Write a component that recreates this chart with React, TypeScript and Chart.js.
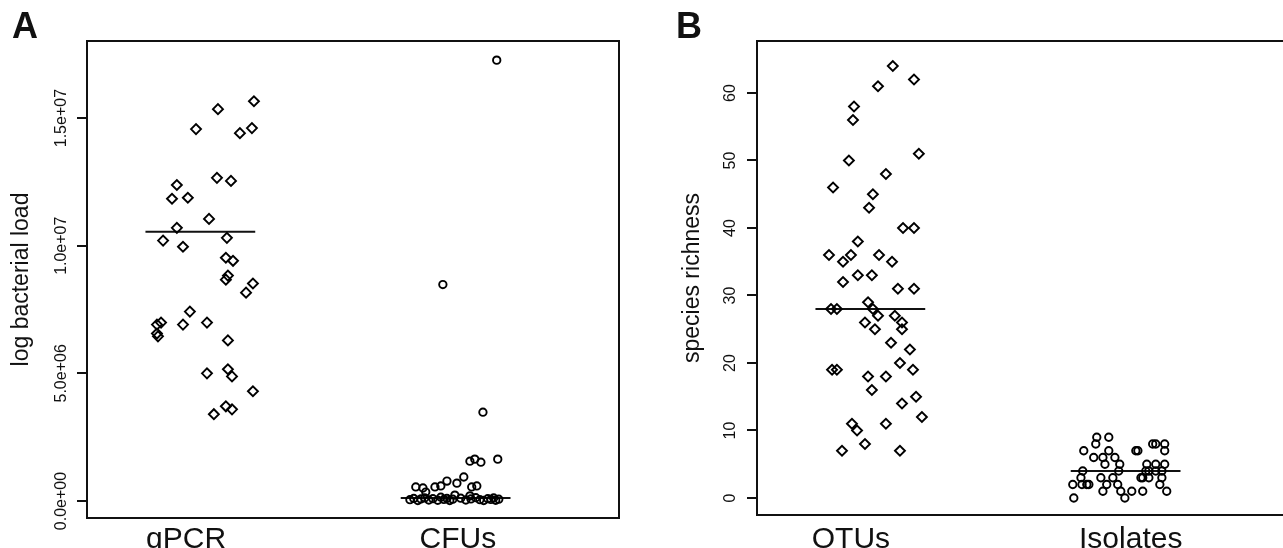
import React, { useEffect, useRef } from "react";
import { Chart, registerables } from "chart.js";

Chart.register(...registerables);

const FONT = "'Liberation Sans', Arial, Helvetica, sans-serif";
const INK = "#111";

// ---------- Panel A ----------
const categoriesA = ["qPCR", "CFUs"];
const catPosA = [1, 2];
const labelPosA = [0.944, 2.009];
const qpcrValues = [
  15.66e6, 15.35e6, 14.57e6, 14.41e6, 14.61e6, 12.66e6, 12.54e6, 12.38e6, 11.84e6, 11.88e6,
  11.05e6, 10.7e6, 10.2e6, 9.96e6, 10.31e6, 9.53e6, 9.41e6, 8.83e6, 8.67e6, 8.52e6,
  8.16e6, 7.42e6, 6.91e6, 6.99e6, 6.91e6, 6.99e6, 6.45e6, 6.56e6, 6.29e6, 5.0e6,
  5.16e6, 4.88e6, 4.3e6, 3.4e6, 3.71e6, 3.59e6,
];
const qpcrJitter = [
  0.21, 0.069, -0.017, 0.155, 0.202, 0.065, 0.12, -0.092, -0.111, -0.049,
  0.034, -0.092, -0.146, -0.068, 0.104, 0.1, 0.128, 0.108, 0.1, 0.206,
  0.179, -0.041, -0.17, -0.154, -0.068, 0.026, -0.166, -0.17, 0.108, 0.026,
  0.108, 0.124, 0.206, 0.053, 0.1, 0.124,
];
const cfuValues = [
  17.27e6, 8.48e6, 3.48e6, 1.56e6, 1.64e6, 1.52e6, 1.64e6, 0.94e6, 0.7e6, 0.78e6,
  0.59e6, 0.55e6, 0.51e6, 0.55e6, 0.35e6, 0.55e6, 0.59e6, 0.23e6, 0.2e6,
  0.05e6, 0.1e6, 0.02e6, 0.08e6, 0.12e6, 0.04e6, 0.09e6, 0.03e6, 0.15e6, 0.06e6,
  0.1e6, 0.02e6, 0.07e6, 0.11e6, 0.04e6, 0.08e6, 0.13e6, 0.05e6, 0.02e6, 0.09e6,
  0.06e6, 0.12e6, 0.03e6, 0.07e6,
];
const cfuJitter = [
  0.161, -0.05, 0.107, 0.056, 0.075, 0.099, 0.165, 0.032, 0.005, -0.034,
  -0.058, -0.081, -0.128, -0.156, -0.117, 0.063, 0.083, -0.003, 0.056,
  -0.179, -0.164, -0.148, -0.136, -0.121, -0.105, -0.089, -0.07, -0.058, -0.046,
  -0.034, -0.023, -0.011, 0.02, 0.04, 0.06, 0.079, 0.095, 0.11, 0.126,
  0.138, 0.149, 0.157, 0.169,
];
const mediansA = [10.55e6, 0.12e6];
const yTicksA = [0, 5e6, 1e7, 1.5e7];
const yTickLabelsA = ["0.0e+00", "5.0e+06", "1.0e+07", "1.5e+07"];
const yRangeA = [-0.666e6, 18.02e6];

// ---------- Panel B ----------
const categoriesB = ["OTUs", "Isolates"];
const catPosB = [1, 2];
const labelPosB = [0.924, 2.02];
const otuValues = [
  64, 62, 61, 58, 56, 50, 51, 46, 48, 45, 43, 40, 40, 38, 36, 35, 36, 36, 35, 32,
  33, 33, 31, 31, 28, 28, 29, 28, 27, 27, 26, 26, 25, 25, 23, 22, 20, 19, 19, 19,
  18, 18, 16, 15, 14, 12, 11, 10, 11, 8, 7, 7,
];
const otuJitter = [
  0.088, 0.171, 0.03, -0.064, -0.068, -0.084, 0.19, -0.146, 0.061, 0.01,
  -0.005, 0.128, 0.171, -0.049, -0.162, -0.107, -0.076, 0.034, 0.085, -0.107,
  -0.049, 0.006, 0.108, 0.171, -0.154, -0.131, -0.009, 0.01, 0.03, 0.096,
  -0.021, 0.124, 0.018, 0.124, 0.081, 0.155, 0.116, -0.15, -0.131, 0.167,
  -0.009, 0.061, 0.006, 0.179, 0.124, 0.202, -0.072, -0.052, 0.061, -0.021,
  -0.111, 0.116,
];
const isolateValues = [
  9, 9, 8, 7, 7, 6, 6, 6, 5, 5, 4, 4, 3, 3, 3, 2, 2, 2, 2, 2, 2, 1, 1, 1, 1, 0, 0,
  7, 7, 8, 8, 8, 7, 5, 5, 5, 4, 4, 4, 4, 3, 3, 3, 3, 2, 1,
];
const isolateJitter = [
  -0.113, -0.066, -0.117, -0.164, -0.066, -0.125, -0.089, -0.042, -0.081, -0.023,
  -0.168, -0.027, -0.175, -0.097, -0.05, -0.207, -0.171, -0.152, -0.144, -0.074,
  -0.031, -0.089, -0.019, 0.024, 0.067, -0.203, -0.003,
  0.04, 0.048, 0.106, 0.118, 0.153, 0.153, 0.083, 0.118, 0.153, 0.079, 0.091, 0.118,
  0.142, 0.067, 0.06, 0.091, 0.142, 0.134, 0.161,
];
const mediansB = [28, 4];
const yTicksB = [0, 10, 20, 30, 40, 50, 60];
const yTickLabelsB = ["0", "10", "20", "30", "40", "50", "60"];
const yRangeB = [-2.52, 67.7];

const xRange = [0.556, 2.64];
const medianHalfWidth = 0.215;

const boxPlugin = {
  id: "boxFrame",
  afterDatasetsDraw(chart: any) {
    const { ctx, chartArea: a } = chart;
    ctx.save();
    ctx.strokeStyle = INK;
    ctx.lineWidth = 2;
    ctx.strokeRect(a.left, a.top, a.right - a.left, a.bottom - a.top);
    ctx.restore();
  },
};

type PanelSpec = {
  width: number;
  height: number;
  categories: string[];
  catPos: number[];
  labelPos: number[];
  groups: { values: number[]; jitter: number[]; style: string; radius: number }[];
  medians: number[];
  yTicks: number[];
  yTickLabels: string[];
  yRange: number[];
  yTitle: string;
  yAxisWidth: number;
  xAxisHeight: number;
  rightPad: number;
  yTickPad: number;
  yTitlePad: number;
  xTickPad: number;
};

function buildConfig(p: PanelSpec): any {
  const datasets: any[] = [];
  p.groups.forEach((g, gi) => {
    datasets.push({
      type: "scatter",
      data: g.values.map((v, i) => ({ x: p.catPos[gi] + g.jitter[i], y: v })),
      pointStyle: g.style,
      pointRadius: g.radius,
      pointBorderWidth: 1.9,
      borderColor: "#000",
      backgroundColor: "rgba(0,0,0,0)",
      pointBackgroundColor: "rgba(0,0,0,0)",
      pointBorderColor: "#000",
    });
  });
  p.medians.forEach((m, gi) => {
    datasets.push({
      type: "line",
      data: [
        { x: p.catPos[gi] - medianHalfWidth, y: m },
        { x: p.catPos[gi] + medianHalfWidth, y: m },
      ],
      borderColor: INK,
      borderWidth: 2,
      pointRadius: 0,
      fill: false,
    });
  });
  return {
    type: "scatter",
    data: { datasets },
    plugins: [boxPlugin],
    options: {
      animation: false,
      responsive: false,
      devicePixelRatio: 1,
      layout: { padding: { top: 41, right: p.rightPad, bottom: 0, left: 0 } },
      plugins: { legend: { display: false }, tooltip: { enabled: false } },
      scales: {
        x: {
          type: "linear",
          min: xRange[0],
          max: xRange[1],
          afterBuildTicks: (s: any) => {
            s.ticks = p.labelPos.map((v) => ({ value: v }));
          },
          afterFit: (s: any) => {
            s.height = p.xAxisHeight;
          },
          ticks: {
            autoSkip: false,
            maxRotation: 0,
            minRotation: 0,
            padding: p.xTickPad,
            color: INK,
            font: { family: FONT, size: 30 },
            callback: (_v: any, i: number) => p.categories[i],
          },
          grid: { display: false, drawTicks: false },
          border: { display: false },
        },
        y: {
          type: "linear",
          min: p.yRange[0],
          max: p.yRange[1],
          afterBuildTicks: (s: any) => {
            s.ticks = p.yTicks.map((v) => ({ value: v }));
          },
          afterFit: (s: any) => {
            s.width = p.yAxisWidth;
          },
          ticks: {
            autoSkip: false,
            minRotation: 90,
            maxRotation: 90,
            crossAlign: "center",
            padding: p.yTickPad,
            color: INK,
            font: { family: FONT, size: 16 },
            callback: (_v: any, i: number) => p.yTickLabels[i],
          },
          grid: {
            drawOnChartArea: false,
            drawTicks: true,
            tickLength: 10,
            color: INK,
            lineWidth: 2,
          },
          border: { display: false },
          title: {
            display: true,
            text: p.yTitle,
            color: INK,
            font: { family: FONT, size: 23 },
            padding: { top: p.yTitlePad, bottom: 0 },
          },
        },
      },
    },
  };
}

function Panel({ spec, left }: { spec: PanelSpec; left: number }) {
  const ref = useRef<HTMLCanvasElement | null>(null);
  useEffect(() => {
    if (!ref.current) return;
    const chart = new Chart(ref.current, buildConfig(spec));
    return () => chart.destroy();
  }, []);
  return (
    <canvas
      ref={ref}
      width={spec.width}
      height={spec.height}
      style={{ position: "absolute", left, top: 0, width: spec.width, height: spec.height }}
    />
  );
}

const specA: PanelSpec = {
  width: 640,
  height: 548,
  categories: categoriesA,
  catPos: catPosA,
  labelPos: labelPosA,
  groups: [
    { values: qpcrValues, jitter: qpcrJitter, style: "rectRot", radius: 5 },
    { values: cfuValues, jitter: cfuJitter, style: "circle", radius: 3.7 },
  ],
  medians: mediansA,
  yTicks: yTicksA,
  yTickLabels: yTickLabelsA,
  yRange: yRangeA,
  yTitle: "log bacterial load",
  yAxisWidth: 87,
  xAxisHeight: 30,
  rightPad: 21,
  yTickPad: -14,
  yTitlePad: 8,
  xTickPad: 4,
};

const specB: PanelSpec = {
  width: 660,
  height: 548,
  categories: categoriesB,
  catPos: catPosB,
  labelPos: labelPosB,
  groups: [
    { values: otuValues, jitter: otuJitter, style: "rectRot", radius: 5 },
    { values: isolateValues, jitter: isolateJitter, style: "circle", radius: 3.7 },
  ],
  medians: mediansB,
  yTicks: yTicksB,
  yTickLabels: yTickLabelsB,
  yRange: yRangeB,
  yTitle: "species richness",
  yAxisWidth: 117,
  xAxisHeight: 33,
  rightPad: 11,
  yTickPad: 8,
  yTitlePad: 39,
  xTickPad: 7,
};

const panelLetter: React.CSSProperties = {
  position: "absolute",
  top: 8,
  fontFamily: FONT,
  fontWeight: 700,
  fontSize: 36,
  lineHeight: "36px",
  color: INK,
};

export default function App() {
  return (
    <div
      style={{
        position: "fixed",
        left: 0,
        top: 0,
        width: 1283,
        height: 548,
        overflow: "hidden",
        background: "#fff",
      }}
    >
      <Panel spec={specA} left={0} />
      <Panel spec={specB} left={640} />
      <div style={{ ...panelLetter, left: 12 }}>A</div>
      <div style={{ ...panelLetter, left: 676 }}>B</div>
    </div>
  );
}
